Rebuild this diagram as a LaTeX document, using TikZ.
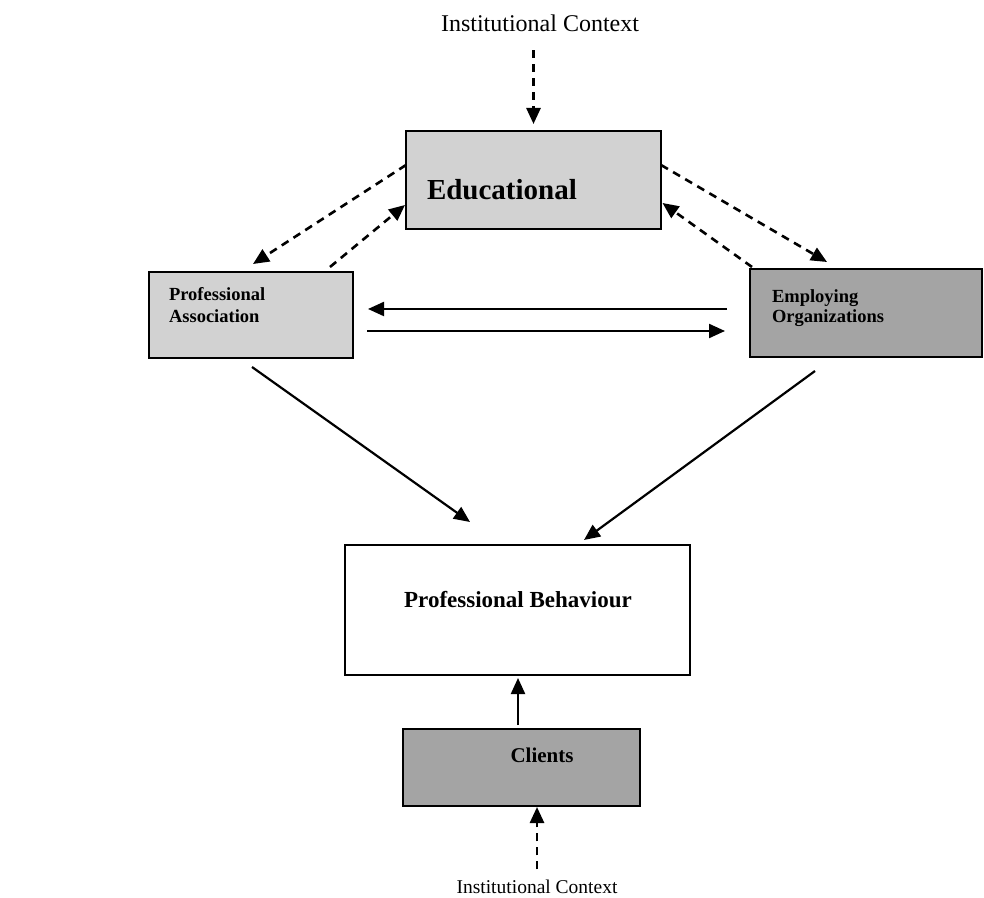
\documentclass[tikz,border=0pt]{standalone}
\usepackage{fontspec}
\setmainfont{Liberation Serif}
\usetikzlibrary{arrows.meta,calc}
\definecolor{lightbox}{HTML}{D2D2D2}
\definecolor{darkbox}{HTML}{A4A4A4}
\begin{document}
\begin{tikzpicture}[x=1pt,y=1pt,
  box/.style={draw=black, line width=2.4pt, rectangle, inner sep=0pt, outer sep=0pt},
  lbl/.style={inner sep=0pt, outer sep=0pt, text=black},
  conn/.style={-{Triangle[length=16pt,width=14pt]}, line width=2.2pt},
  dconn/.style={conn, line width=2.6pt, dash pattern=on 8pt off 6pt},
]
\useasboundingbox[fill=white] (0,0) rectangle (984,897);

% boxes
\node[box, fill=lightbox, minimum width=255pt, minimum height=98pt] (edu) at (533.5,717) {};
\node[box, fill=lightbox, minimum width=204pt, minimum height=86pt] (pa) at (251,582) {};
\node[box, fill=darkbox, minimum width=232pt, minimum height=88pt] (eo) at (866,584) {};
\node[box, fill=white, minimum width=345pt, minimum height=130pt] (pb) at (517.5,287) {};
\node[box, fill=darkbox, minimum width=237pt, minimum height=77pt] (cl) at (521.5,129.5) {};

% texts
\node[lbl, anchor=base, font=\fontsize{24}{28}\selectfont] (top) at (540,865) {Institutional Context};
\node[lbl, anchor=base, font=\fontsize{19.5}{23}\selectfont] (bot) at (537,4) {Institutional Context};
\node[lbl, anchor=base west, font=\fontsize{29}{33}\selectfont\bfseries] (edutext) at (427,697) {Educational};
\node[lbl, anchor=north west, align=left, font=\fontsize{18.5}{22}\selectfont\bfseries] (patext) at (169,610) {Professional\\Association};
\node[lbl, anchor=north west, align=left, font=\fontsize{18.5}{20}\selectfont\bfseries] (eotext) at (772,607) {Employing\\Organizations};
\node[lbl, anchor=base, font=\fontsize{23}{27}\selectfont\bfseries] (pbtext) at (518,289) {Professional Behaviour};
\node[lbl, anchor=base, font=\fontsize{21}{25}\selectfont\bfseries] (cltext) at (542,135) {Clients};

% connectors
\draw[dconn, shorten <=18pt, shorten >=7pt] (top.south -| edu.north) -- (edu.north);
\draw[dconn] ($(edu.north west)+(0,-34)$) -- ($(pa.north)+(2,8)$);
\draw[dconn] ($(pa.north east)+(-23,5)$) -- ($(edu.south west)+(-1,24)$);
\draw[dconn] ($(edu.north east)+(0,-34)$) -- ($(eo.north west)+(77,7)$);
\draw[dconn] ($(eo.north west)+(2,2)$) -- ($(edu.south east)+(1.5,26)$);
\draw[conn] ($(eo.west)+(-23,4)$) -- ($(pa.east)+(15,6)$);
\draw[conn] ($(pa.east)+(14,-16)$) -- ($(eo.west)+(-25,-18)$);
\draw[conn] ($(pa.south)+(1,-9)$) -- ($(pb.north)+(-47.5,23)$);
\draw[conn] ($(eo.south)+(-51,-14)$) -- ($(pb.north)+(66.5,5)$);
\draw[conn] ($(cl.north)+(-3.5,4)$) -- ($(pb.south)+(0.5,-3)$);
\draw[dconn, shorten <=10pt, shorten >=1pt] (bot.north) -- (bot.north |- cl.south);
\end{tikzpicture}
\end{document}
